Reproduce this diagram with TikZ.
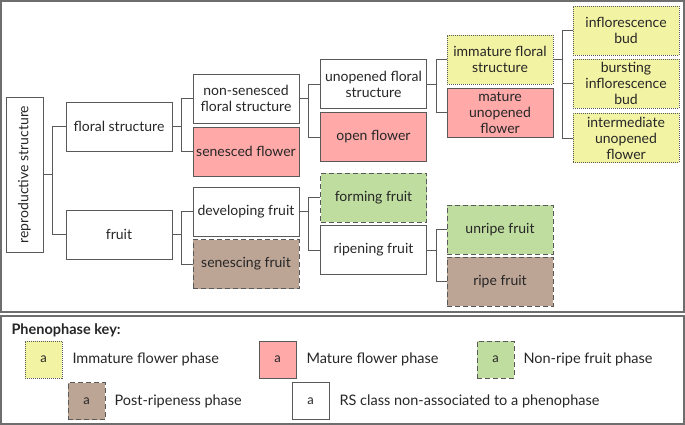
\documentclass[tikz,border=0pt]{standalone}
\usepackage{fontspec}
\setmainfont{Lato}

\definecolor{linegray}{HTML}{595959}
\definecolor{framegray}{HTML}{6E6E6E}
\definecolor{textgray}{HTML}{262626}
\definecolor{immfill}{HTML}{F3F3A4}
\definecolor{matfill}{HTML}{FFA9A9}
\definecolor{nrfill}{HTML}{C0DDA0}
\definecolor{prfill}{HTML}{BDA596}

\tikzset{
  rsbox/.style={draw=linegray, line width=0.9pt, minimum width=106, minimum height=49,
    align=center, inner sep=1pt, text=textgray, font=\fontsize{14}{16}\selectfont},
  immature/.style={rsbox, fill=immfill, dash pattern=on 1pt off 1pt},
  mature/.style={rsbox, fill=matfill},
  nonripe/.style={rsbox, fill=nrfill, dash pattern=on 5pt off 3pt},
  postripe/.style={rsbox, fill=prfill, dash pattern=on 5pt off 3pt},
  link/.style={draw=linegray, line width=0.8pt},
  keybox/.style={minimum width=37, minimum height=37, inner sep=0pt, font=\fontsize{13}{15}\selectfont},
  keytext/.style={anchor=west, text=textgray, font=\fontsize{14.5}{17}\selectfont},
  frame/.style={draw=framegray, line width=1.2pt}
}

\begin{document}
\begin{tikzpicture}[x=1pt, y=-1pt]
    \useasboundingbox (0,0) rectangle (685,425);
    \draw[frame] (1,1) rectangle (684,312);
    \draw[frame] (1,316) rectangle (684,424);

    % tree
    \node[rsbox, minimum width=37, minimum height=155] (rs) at (24.5,174.5) {\rotatebox{90}{reproductive structure}};
    \node[rsbox] (fs) at (119,126.5) {floral structure};
    \node[rsbox] (fr) at (119,234.5) {fruit};
    \node[rsbox] (nsfs) at (246,98.5) {non-senesced\\floral structure};
    \node[mature] (sf) at (246,151.5) {senesced flower};
    \node[rsbox] (df) at (246,211.5) {developing fruit};
    \node[postripe] (sfr) at (246,264) {senescing fruit};
    \node[rsbox] (ufs) at (373.5,84) {unopened floral\\structure};
    \node[mature] (of) at (373.5,137) {open flower};
    \node[nonripe] (ff) at (373.5,197.5) {forming fruit};
    \node[rsbox] (rf) at (373.5,250) {ripening fruit};
    \node[immature] (ifs) at (500,59.5) {immature floral\\structure};
    \node[mature] (muf) at (500,112.5) {mature\\unopened\\flower};
    \node[nonripe] (uf) at (500,229.5) {unripe fruit};
    \node[postripe] (rpf) at (500,281.5) {ripe fruit};
    \node[immature] (ib) at (626,30.5) {inflorescence\\bud};
    \node[immature] (bib) at (626,83.5) {bursting\\inflorescence\\bud};
    \node[immature] (iuf) at (626,138) {intermediate\\unopened\\flower};

    \foreach \p/\a/\b in {rs/fs/fr, fs/nsfs/sf, fr/df/sfr, nsfs/ufs/of, df/ff/rf, ufs/ifs/muf, rf/uf/rpf, ifs/ib/iuf}
        \draw[link] (\p.east) -- ++(9,0) coordinate (j) |- (\a.west) (j) |- (\b.west);
    \draw[link] (ifs.east) ++(9,0) |- (bib.west);

    % key
    \node[anchor=west, text=textgray, font=\fontsize{14.5}{17}\selectfont\bfseries] (keytitle) at (8,330) {Phenophase key:};
    \node[rsbox, keybox, fill=immfill, dash pattern=on 1pt off 1pt] (k1) at (43.5,359.5) {a};
    \node[keytext] (t1) at (69,359.5) {Immature flower phase};
    \node[rsbox, keybox, fill=matfill] (k2) at (277.5,359.5) {a};
    \node[keytext] (t2) at (303,359.5) {Mature flower phase};
    \node[rsbox, keybox, fill=nrfill, dash pattern=on 5pt off 3pt] (k3) at (495.5,359.5) {a};
    \node[keytext] (t3) at (520,359.5) {Non-ripe fruit phase};
    \node[rsbox, keybox, fill=prfill, dash pattern=on 5pt off 3pt] (k4) at (86.5,401) {a};
    \node[keytext] (t4) at (111,401) {Post-ripeness phase};
    \node[rsbox, keybox] (k5) at (310.5,401) {a};
    \node[keytext] (t5) at (336,401) {RS class non-associated to a phenophase};
\end{tikzpicture}
\end{document}
